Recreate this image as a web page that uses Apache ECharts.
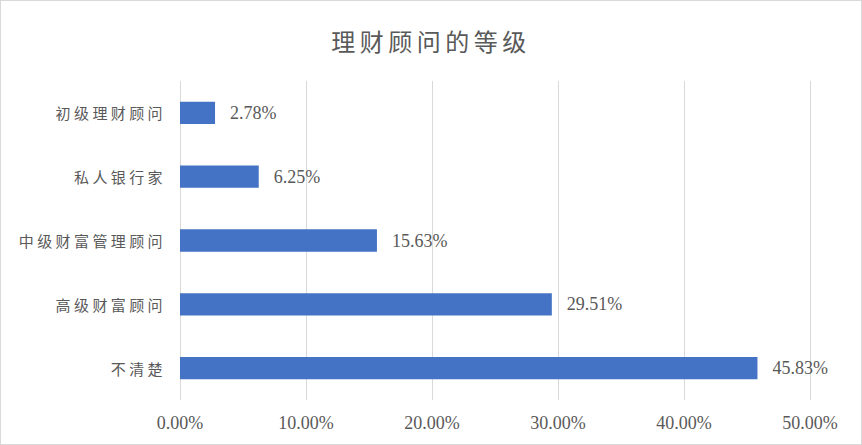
<!DOCTYPE html>
<html><head><meta charset="utf-8">
<script src="https://cdn.jsdelivr.net/npm/echarts@6/dist/echarts.min.js"></script>
<style>html,body{margin:0;padding:0;background:#fff}#c{width:862px;height:445px;box-sizing:border-box;border:1px solid #d9d9d9}</style>
</head><body><div id="c"></div>
<script>
const title = '理财顾问的等级';
const categories = ['初级理财顾问', '私人银行家', '中级财富管理顾问', '高级财富顾问', '不清楚'];
const values = [2.78, 6.25, 15.63, 29.51, 45.83];
const xTicks = { min: 0, max: 50, interval: 10 };
const CJK = '"Noto Sans CJK SC", sans-serif';
const NUM = '"Liberation Serif", "DejaVu Serif", serif';
const chart = echarts.init(document.getElementById('c'), null, { renderer: 'svg' });
chart.setOption({
  animation: false,
  title: { text: title, left: 'center', top: 22, textStyle: { fontFamily: CJK, fontSize: 24, fontWeight: 'normal', color: '#595959' } },
  grid: { left: 179, right: 51, top: 80, bottom: 44, containLabel: false },
  xAxis: {
    type: 'value', min: xTicks.min, max: xTicks.max, interval: xTicks.interval,
    axisLine: { show: false }, axisTick: { show: false },
    splitLine: { lineStyle: { color: '#d9d9d9', width: 1 } },
    axisLabel: { margin: 14, color: '#595959', fontFamily: NUM, fontSize: 18, formatter: v => v.toFixed(2) + '%' }
  },
  yAxis: {
    type: 'category', data: categories, inverse: true,
    axisLine: { show: false }, axisTick: { show: false },
    axisLabel: { margin: 14, color: '#595959', fontFamily: CJK, fontSize: 15 }
  },
  series: [{
    type: 'bar', data: values, barWidth: '35%',
    itemStyle: { color: '#4472C4' },
    label: { show: true, position: 'right', distance: 15, color: '#595959', fontFamily: NUM, fontSize: 18, formatter: p => p.value.toFixed(2) + '%' }
  }]
});
function spaceCJK() {
  document.querySelectorAll('#c svg text').forEach(t => {
    if (/[\u4e00-\u9fff]/.test(t.textContent)) {
      const fs = parseFloat(getComputedStyle(t).fontSize);
      t.style.letterSpacing = (fs >= 20 ? 4.5 : 3.4) + 'px';
    }
  });
}
spaceCJK();
chart.on('finished', spaceCJK);
</script></body></html>
